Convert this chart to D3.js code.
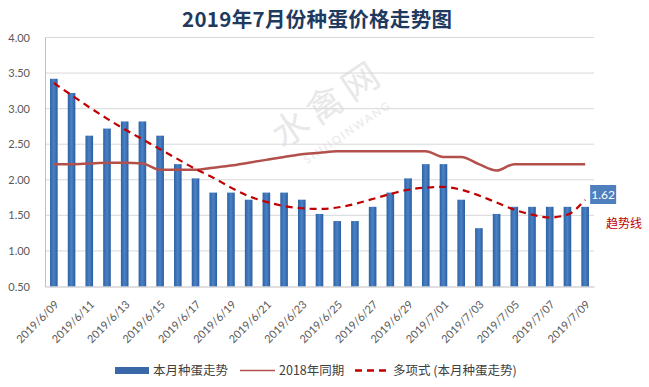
<!DOCTYPE html>
<html>
<head>
<meta charset="utf-8">
<script src="https://cdn.jsdelivr.net/npm/d3@7"></script>
<style>
  html, body { margin: 0; padding: 0; background: #ffffff; }
  svg { display: block; }
</style>
</head>
<body>
<svg id="chart" width="649" height="387"></svg>
<script>
// ---- data ----
const dates = ["2019/6/09","2019/6/10","2019/6/11","2019/6/12","2019/6/13","2019/6/14","2019/6/15","2019/6/16",
  "2019/6/17","2019/6/18","2019/6/19","2019/6/20","2019/6/21","2019/6/22","2019/6/23","2019/6/24","2019/6/25",
  "2019/6/26","2019/6/27","2019/6/28","2019/6/29","2019/6/30","2019/7/01","2019/7/02","2019/7/03","2019/7/04",
  "2019/7/05","2019/7/06","2019/7/07","2019/7/08","2019/7/09"];
const thisMonth = [3.42,3.22,2.62,2.72,2.82,2.82,2.62,2.22,2.02,1.82,1.82,1.72,1.82,1.82,1.72,1.52,1.42,1.42,
  1.62,1.82,2.02,2.22,2.22,1.72,1.32,1.52,1.62,1.62,1.62,1.62,1.62];
const lastYear = [2.22,2.22,2.23,2.24,2.24,2.23,2.14,2.14,2.14,2.17,2.20,2.24,2.28,2.32,2.36,2.38,2.40,2.40,
  2.40,2.40,2.40,2.40,2.32,2.32,2.22,2.13,2.22,2.22,2.22,2.22,2.22];
const trend = [3.36,3.19,3.02,2.86,2.71,2.57,2.43,2.29,2.15,2.03,1.89,1.77,1.69,1.63,1.60,1.59,1.61,1.66,
  1.73,1.80,1.86,1.89,1.90,1.86,1.78,1.68,1.58,1.51,1.47,1.51,1.72];
const yTicks = [0.5,1.0,1.5,2.0,2.5,3.0,3.5,4.0];
const title = "2019年7月份种蛋价格走势图";
const seriesNames = ["本月种蛋走势","2018年同期","多项式 (本月种蛋走势)"];
const lastLabel = "1.62";
const trendNote = "趋势线";

// ---- layout ----
const svg = d3.select("#chart");
const pLeft = 45, pRight = 594, pTop = 37.5, pBottom = 286.5;
const latin = "Lato, 'Noto Sans', sans-serif";
const cjk = "'Noto Sans CJK SC', 'Noto Sans', sans-serif";

const x = d3.scaleBand().domain(dates).range([pLeft, pRight]).paddingInner(0.57).paddingOuter(0.285);
const y = d3.scaleLinear().domain([0.5, 4]).range([pBottom, pTop]);
const cx = d => x(d) + x.bandwidth() / 2;

const defs = svg.append("defs");
const grad = defs.append("linearGradient").attr("id", "barGrad").attr("x1", "0").attr("x2", "1").attr("y1", "0").attr("y2", "0");
grad.append("stop").attr("offset", "0%").attr("stop-color", "#2f62a6");
grad.append("stop").attr("offset", "50%").attr("stop-color", "#4a82c6");
grad.append("stop").attr("offset", "100%").attr("stop-color", "#2c5d9e");

// watermark
const wm = svg.append("g").attr("transform", "translate(335,114) rotate(-34)");
wm.append("text").attr("text-anchor", "middle").attr("font-family", cjk).attr("font-size", 36)
  .attr("fill", "#e8e8e8").attr("letter-spacing", 6).text("水禽网");
wm.append("text").attr("text-anchor", "middle").attr("y", 26).attr("font-family", latin).attr("font-size", 11)
  .attr("fill", "#e8e8e8").attr("letter-spacing", 2).text("SHUIQINWANG");

// gridlines
svg.append("g").selectAll("line").data(yTicks.filter(t => t > 0.5)).join("line")
  .attr("x1", pLeft).attr("x2", pRight).attr("y1", d => y(d)).attr("y2", d => y(d))
  .attr("stroke", "#d9d9d9").attr("stroke-width", 1);

// y axis
const yAxis = svg.append("g").attr("transform", `translate(${pLeft},0)`)
  .call(d3.axisLeft(y).tickValues(yTicks).tickFormat(d3.format(".2f")).tickSize(0).tickPadding(15));
yAxis.select(".domain").attr("stroke", "#bfbfbf");
yAxis.selectAll("text").attr("font-family", latin).attr("font-size", 11).attr("fill", "#595959");

// bars
svg.append("g").selectAll("rect").data(dates).join("rect")
  .attr("x", d => x(d)).attr("width", x.bandwidth())
  .attr("y", (d, i) => y(thisMonth[i])).attr("height", (d, i) => pBottom - y(thisMonth[i]))
  .attr("fill", "url(#barGrad)");

// x axis
const xAxis = svg.append("g").attr("transform", `translate(0,${pBottom})`)
  .call(d3.axisBottom(x).tickValues(dates.filter((d, i) => i % 2 === 0)).tickSize(0));
xAxis.select(".domain").attr("stroke", "#bfbfbf");
xAxis.selectAll("text").attr("font-family", latin).attr("font-size", 11).attr("fill", "#595959")
  .attr("text-anchor", "end").attr("dy", "0.35em")
  .attr("transform", "translate(3,16) rotate(-45)").attr("y", 0).attr("x", 0);

// 2018 line
const line = d3.line().x((d, i) => cx(dates[i])).y(d => y(d)).curve(d3.curveMonotoneX);
svg.append("path").datum(lastYear).attr("d", line).attr("fill", "none")
  .attr("stroke", "#b2504c").attr("stroke-width", 2.5).attr("stroke-linejoin", "round");

// trend line
svg.append("path").datum(trend).attr("d", line).attr("fill", "none")
  .attr("stroke", "#c00000").attr("stroke-width", 2.2).attr("stroke-dasharray", "7,5");

// last value label
const lx = cx(dates[dates.length - 1]) + 5, ly = 185;
svg.append("rect").attr("x", lx).attr("y", ly).attr("width", 26).attr("height", 19).attr("fill", "#4f7fbd");
svg.append("text").attr("x", lx + 13).attr("y", ly + 13.5).attr("text-anchor", "middle")
  .attr("font-family", latin).attr("font-size", 12).attr("fill", "#ffffff").text(lastLabel);
svg.append("text").attr("x", 606).attr("y", 228).attr("font-family", cjk).attr("font-size", 12)
  .attr("fill", "#c00000").text(trendNote);

// title
svg.append("text").attr("x", 317).attr("y", 27).attr("text-anchor", "middle")
  .attr("font-family", cjk).attr("font-weight", "bold").attr("font-size", 20.5)
  .attr("fill", "#1f3a5f").attr("textLength", 270).attr("lengthAdjust", "spacing").text(title);

// legend
const lg = svg.append("g");
const ly2 = 370.5;
lg.append("rect").attr("x", 115).attr("y", ly2 - 3.5).attr("width", 34).attr("height", 7).attr("fill", "#3868a8");
lg.append("text").attr("x", 153).attr("y", ly2).attr("dy", "0.35em").attr("font-family", cjk).attr("font-size", 12.5)
  .attr("fill", "#404040").text(seriesNames[0]);
lg.append("line").attr("x1", 240).attr("x2", 275).attr("y1", ly2).attr("y2", ly2).attr("stroke", "#b2504c").attr("stroke-width", 1.5);
lg.append("text").attr("x", 279).attr("y", ly2).attr("dy", "0.35em").attr("font-family", cjk).attr("font-size", 12.5)
  .attr("fill", "#404040").text(seriesNames[1]);
lg.append("line").attr("x1", 355).attr("x2", 388).attr("y1", ly2).attr("y2", ly2).attr("stroke", "#c00000")
  .attr("stroke-width", 2.5).attr("stroke-dasharray", "7,5");
lg.append("text").attr("x", 393).attr("y", ly2).attr("dy", "0.35em").attr("font-family", cjk).attr("font-size", 12.5)
  .attr("fill", "#404040").text(seriesNames[2]);
</script>
</body>
</html>
